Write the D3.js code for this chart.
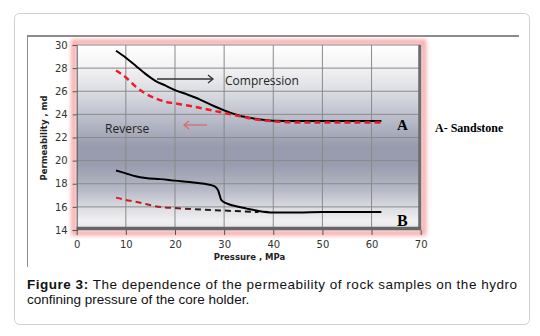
<!DOCTYPE html>
<html lang="en">
<head>
    <meta charset="UTF-8">
    <title>Permeability vs pressure</title>
    <style>
        body { margin: 0; background: #fff; }
        .grid line { stroke: #8a8a8a; stroke-width: 1; }
        .axis text { font-family: "DejaVu Sans", Verdana, sans-serif; font-size: 10px; fill: #333; }
        .axis path, .axis line { stroke: #555; }
        .caption { font-family: "Liberation Sans", Arial, sans-serif; font-size: 13.5px; fill: #111; }
    </style>
</head>
<body>
    <svg id="container" width="540" height="336"></svg>

<script src="https://cdn.jsdelivr.net/npm/d3@7"></script>
<script>

    // pressure (MPa) and permeability (md)
    let compressionA = [[8,29.5],[10,28.9],[12,28.2],[14,27.5],[16,26.9],[18,26.5],[20,26.1],[22,25.8],[25,25.3],[28,24.7],[30,24.35],[33,23.9],[36,23.65],[40,23.45],[45,23.42],[50,23.42],[55,23.43],[62,23.43]]
    let reverseA = [[8,27.8],[10,27.2],[12,26.4],[14,25.8],[16,25.4],[18,25.1],[20,24.95],[24,24.65],[28,24.3],[32,23.95],[36,23.6],[40,23.4],[45,23.3],[50,23.3],[55,23.3],[62,23.3]]
    let compressionB = [[8,19.15],[10,18.9],[12,18.65],[14,18.5],[17,18.4],[20,18.27],[23,18.15],[26,18.0],[28,17.8],[28.8,17.4],[29.1,17.0],[29.4,16.6],[30.5,16.3],[32,16.1],[34.6,15.85],[37,15.65],[40,15.52],[45,15.52],[50,15.55],[55,15.55],[62,15.55]]
    let reverseB = [[8,16.8],[10,16.6],[12,16.45],[14,16.25],[16,16.05],[18,15.95],[20,15.9],[24,15.8],[28,15.72],[32,15.64],[37,15.55]]

    let xTicks = [0, 10, 20, 30, 40, 50, 60, 70]
    let yTicks = [14, 16, 18, 20, 22, 24, 26, 28, 30]

    let svg = d3.select("#container")
    let pLeft = 76.7, pRight = 420.7, pTop = 45, pBottom = 230

    let x = d3.scaleLinear().domain([0, 70]).range([pLeft, pRight])
    let y = d3.scaleLinear().domain([14, 30]).range([pBottom, pTop])

    let defs = svg.append("defs")
    let grad = defs.append("linearGradient").attr("id", "bg")
        .attr("x1", 0).attr("y1", 0).attr("x2", 0).attr("y2", 1)
    let stops = [[0, "#ffffff"], [0.12, "#f3f3f5"], [0.25, "#dcdde3"], [0.4, "#b9bcc9"],
                 [0.55, "#979bad"], [0.65, "#999daf"], [0.78, "#b5b8c5"], [0.88, "#dcdde2"],
                 [0.95, "#f0f0f2"], [1, "#e6e6e8"]]
    grad.selectAll("stop").data(stops).enter().append("stop")
        .attr("offset", d => d[0]).attr("stop-color", d => d[1])

    let bGrad = defs.append("linearGradient").attr("id", "bdash")
        .attr("gradientUnits", "userSpaceOnUse")
        .attr("x1", x(8)).attr("x2", x(37)).attr("y1", 0).attr("y2", 0)
    bGrad.append("stop").attr("offset", 0).attr("stop-color", "#e01a1a")
    bGrad.append("stop").attr("offset", 0.35).attr("stop-color", "#a02020")
    bGrad.append("stop").attr("offset", 0.6).attr("stop-color", "#222")
    bGrad.append("stop").attr("offset", 1).attr("stop-color", "#111")

    defs.append("filter").attr("id", "glow")
        .attr("x", -0.1).attr("y", -0.1).attr("width", 1.2).attr("height", 1.2)
        .append("feGaussianBlur").attr("stdDeviation", 2)

    // card
    svg.append("rect").attr("x", 14.5).attr("y", 13.5).attr("width", 515).attr("height", 311)
        .attr("rx", 5).attr("fill", "#fff").attr("stroke", "#d0d0d0")

    // frame lines of the figure
    svg.append("line").attr("x1", 27).attr("x2", 519).attr("y1", 36).attr("y2", 36)
        .attr("stroke", "#8c8c8c").attr("stroke-width", 2)
    svg.append("line").attr("x1", 27.5).attr("x2", 27.5).attr("y1", 36).attr("y2", 267)
        .attr("stroke", "#8c8c8c").attr("stroke-width", 1)

    // pink glow behind plot
    svg.append("rect").attr("x", pLeft - 3).attr("y", pTop - 3)
        .attr("width", pRight - pLeft + 6).attr("height", pBottom - pTop + 6)
        .attr("fill", "none").attr("stroke", "#f4a6a6").attr("stroke-width", 5)
        .attr("filter", "url(#glow)")

    svg.append("rect").attr("x", pLeft).attr("y", pTop)
        .attr("width", pRight - pLeft).attr("height", pBottom - pTop)
        .attr("fill", "url(#bg)")

    // grid
    let grid = svg.append("g").attr("class", "grid")
    grid.selectAll(".v").data(xTicks.slice(1, -1)).enter().append("line")
        .attr("x1", d => x(d)).attr("x2", d => x(d)).attr("y1", pTop).attr("y2", pBottom)
    grid.selectAll(".h").data(yTicks.slice(1)).enter().append("line")
        .attr("x1", pLeft).attr("x2", pRight).attr("y1", d => y(d)).attr("y2", d => y(d))

    // 3d wall edges
    svg.append("line").attr("x1", pRight - 1).attr("x2", pRight - 1).attr("y1", pTop).attr("y2", pBottom)
        .attr("stroke", "#6e6e6e").attr("stroke-width", 3)
    svg.append("line").attr("x1", pLeft).attr("x2", pRight).attr("y1", pBottom - 1.5).attr("y2", pBottom - 1.5)
        .attr("stroke", "#666").attr("stroke-width", 3.5)

    // axes
    svg.append("g").attr("class", "axis")
        .attr("transform", `translate(0,${pBottom})`)
        .call(d3.axisBottom(x).tickValues(xTicks).tickSize(5).tickPadding(6))
        .call(g => g.select(".domain").remove())
    svg.append("g").attr("class", "axis")
        .attr("transform", `translate(${pLeft},0)`)
        .call(d3.axisLeft(y).tickValues(yTicks).tickSize(4).tickPadding(5))
        .call(g => g.select(".domain").attr("stroke", "#444"))

    let line = d3.line().x(d => x(d[0])).y(d => y(d[1])).curve(d3.curveMonotoneX)

    svg.append("path").datum(reverseB).attr("d", line)
        .attr("fill", "none").attr("stroke", "url(#bdash)").attr("stroke-width", 2)
        .attr("stroke-dasharray", "6,4")
    svg.append("path").datum(compressionB).attr("d", line)
        .attr("fill", "none").attr("stroke", "#000").attr("stroke-width", 2)
    svg.append("path").datum(compressionA).attr("d", line)
        .attr("fill", "none").attr("stroke", "#000").attr("stroke-width", 2)
    svg.append("path").datum(reverseA).attr("d", line)
        .attr("fill", "none").attr("stroke", "#ee1c24").attr("stroke-width", 2.5)
        .attr("stroke-dasharray", "6,4")

    // annotations
    let arrow = (x1, x2, yy, color) => {
        svg.append("line").attr("x1", x1).attr("x2", x2).attr("y1", yy).attr("y2", yy)
            .attr("stroke", color).attr("stroke-width", 1.3)
        let d = x2 > x1 ? -1 : 1
        svg.append("path")
            .attr("d", `M${x2 + d * 5},${yy - 4}L${x2},${yy}L${x2 + d * 5},${yy + 4}`)
            .attr("fill", "none").attr("stroke", color).attr("stroke-width", 1.3)
    }
    arrow(157, 213, 79, "#333")
    arrow(207, 184, 125, "#d86a6a")

    let sans = "Open Sans, Liberation Sans, sans-serif"
    svg.append("text").attr("x", 225).attr("y", 85).text("Compression")
        .style("font-family", sans).style("font-size", "12px").attr("fill", "#222")
    svg.append("text").attr("x", 105).attr("y", 133).text("Reverse")
        .style("font-family", sans).style("font-size", "12px").attr("fill", "#222")

    let serif = "Liberation Serif, Times New Roman, serif"
    svg.append("text").attr("x", 397).attr("y", 130).text("A")
        .style("font-family", serif).style("font-size", "15px").style("font-weight", "bold")
    svg.append("text").attr("x", 397).attr("y", 226).text("B")
        .style("font-family", serif).style("font-size", "16px").style("font-weight", "bold")
    svg.append("text").attr("x", 435).attr("y", 132).text("A- Sandstone")
        .style("font-family", serif).style("font-size", "12px").style("font-weight", "bold")

    // axis titles
    svg.append("text").attr("x", 249.5).attr("y", 260).attr("text-anchor", "middle")
        .text("Pressure , MPa")
        .style("font-family", "DejaVu Sans, Verdana, sans-serif").style("font-size", "8.5px")
        .style("font-weight", "bold").attr("fill", "#222")
    svg.append("text").attr("transform", "translate(47,138) rotate(-90)").attr("text-anchor", "middle")
        .text("Permeability , md")
        .style("font-family", "DejaVu Sans, Verdana, sans-serif").style("font-size", "8.5px")
        .style("font-weight", "bold").attr("fill", "#222")

    // caption
    let cap = svg.append("text").attr("class", "caption").attr("x", 27).attr("y", 289)
        .attr("textLength", 490).attr("lengthAdjust", "spacing")
    cap.append("tspan").text("Figure 3:").style("font-weight", "bold")
    cap.append("tspan").text(" The dependence of the permeability of rock samples on the hydro")
    svg.append("text").attr("class", "caption").attr("x", 27).attr("y", 304)
        .text("confining pressure of the core holder.")

</script>
</body>
</html>
